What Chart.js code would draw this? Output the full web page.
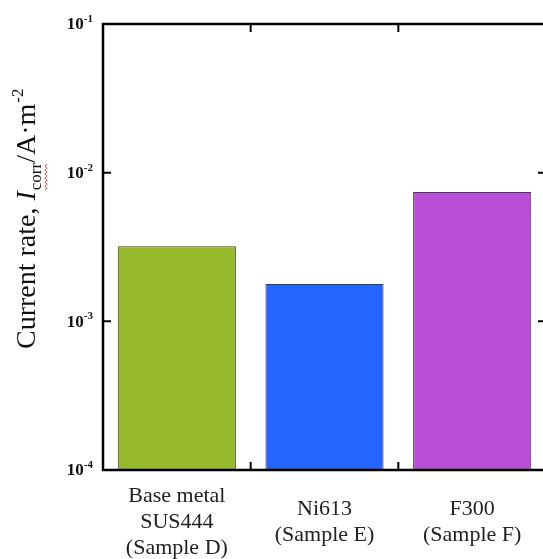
<!DOCTYPE html>
<html>
<head>
<meta charset="utf-8">
<script src="https://cdn.jsdelivr.net/npm/chart.js@4.4.1/dist/chart.umd.min.js"></script>
<style>
    html, body { margin: 0; padding: 0; overflow: hidden; background: #fff; }
    #caixa { width: 560px; height: 559px; }
</style>
</head>
<body>
<div id="caixa"><canvas id="grafico" width="560" height="559"></canvas></div>
<script>
// Dados do gráfico
const amostras = [['Base metal', 'SUS444', '(Sample D)'], ['Ni613', '(Sample E)'], ['F300', '(Sample F)']];
const correntes = [3.2e-3, 1.78e-3, 7.4e-3];
const cores = ['#97ba2c', '#2266ff', '#b84fd6'];
const decadas = [-4, -3, -2, -1];

const serif = '"Times New Roman", "Liberation Serif", serif';

// Moldura, marcas internas, rótulos 10^n e título do eixo Y
const moldura = {
    id: 'moldura',
    afterDraw: function (chart) {
        const ctx = chart.ctx;
        const a = chart.chartArea;
        const y = chart.scales.y;
        const x = chart.scales.x;
        ctx.save();

        ctx.strokeStyle = '#000';
        ctx.lineWidth = 2.5;
        ctx.strokeRect(a.left, a.top, a.right - a.left, a.bottom - a.top);

        ctx.lineWidth = 2;
        decadas.forEach(function (e) {
            const py = y.getPixelForValue(Math.pow(10, e));
            ctx.beginPath();
            ctx.moveTo(a.left, py); ctx.lineTo(a.left + 8, py);
            ctx.moveTo(a.right, py); ctx.lineTo(a.right - 8, py);
            ctx.stroke();

            ctx.fillStyle = '#111';
            ctx.textAlign = 'right';
            ctx.textBaseline = 'middle';
            ctx.font = 'bold 11px ' + serif;
            const exp = '-' + Math.abs(e);
            const w = ctx.measureText(exp).width;
            ctx.fillText(exp, a.left - 10, py - 5);
            ctx.font = 'bold 17px ' + serif;
            ctx.fillText('10', a.left - 10 - w, py + 1);
        });

        for (let i = 0; i < amostras.length - 1; i++) {
            const px = (x.getPixelForValue(i) + x.getPixelForValue(i + 1)) / 2;
            ctx.beginPath();
            ctx.moveTo(px, a.bottom); ctx.lineTo(px, a.bottom - 8);
            ctx.moveTo(px, a.top); ctx.lineTo(px, a.top + 8);
            ctx.stroke();
        }

        // título: Current rate, I_corr/A·m^-2
        ctx.translate(35, 349);
        ctx.rotate(-Math.PI / 2);
        ctx.textAlign = 'left';
        ctx.textBaseline = 'alphabetic';
        ctx.fillStyle = '#111';
        let cx = 0;
        ctx.font = '28px ' + serif;
        ctx.fillText('Current rate, ', cx, 0);
        cx += ctx.measureText('Current rate, ').width;
        ctx.font = 'italic 28px ' + serif;
        ctx.fillText('I', cx, 0);
        cx += ctx.measureText('I').width + 1;
        ctx.font = '17px ' + serif;
        ctx.fillText('corr', cx, 6);
        const wc = ctx.measureText('corr').width;
        ctx.strokeStyle = '#e03030';
        ctx.lineWidth = 1;
        ctx.beginPath();
        for (let k = 0; k <= wc; k += 2) {
            const yy = 10 + ((k / 2) % 2 === 0 ? 0 : 2);
            if (k === 0) ctx.moveTo(cx + k, yy); else ctx.lineTo(cx + k, yy);
        }
        ctx.stroke();
        cx += wc;
        ctx.font = '28px ' + serif;
        ctx.fillText('/A\u00b7m', cx, 0);
        cx += ctx.measureText('/A\u00b7m').width + 1;
        ctx.font = '17px ' + serif;
        ctx.fillText('-2', cx, -12);

        ctx.restore();
    }
};

const ctxGrafico = document.getElementById('grafico').getContext('2d');
new Chart(ctxGrafico, {
    type: 'bar',
    data: {
        labels: amostras,
        datasets: [{
            data: correntes,
            backgroundColor: cores,
            borderColor: '#404040',
            borderWidth: 1,
            barPercentage: 0.8,
            categoryPercentage: 1.0
        }]
    },
    options: {
        responsive: false,
        animation: false,
        layout: { padding: { top: 24, right: 14, left: 0, bottom: 0 } },
        plugins: {
            legend: { display: false },
            tooltip: { enabled: false }
        },
        scales: {
            x: {
                grid: { display: false, drawTicks: false },
                border: { display: false },
                ticks: {
                    color: '#222',
                    font: { family: serif, size: 22, lineHeight: 1.18 },
                    padding: 26,
                    crossAlign: 'center',
                    maxRotation: 0,
                    autoSkip: false
                },
                afterFit: function (s) { s.height = 89; }
            },
            y: {
                type: 'logarithmic',
                min: 1e-4,
                max: 1e-1,
                grid: { display: false, drawTicks: false },
                border: { display: false },
                ticks: { display: false },
                afterFit: function (s) { s.width = 103; }
            }
        }
    },
    plugins: [moldura]
});
</script>
</body>
</html>
